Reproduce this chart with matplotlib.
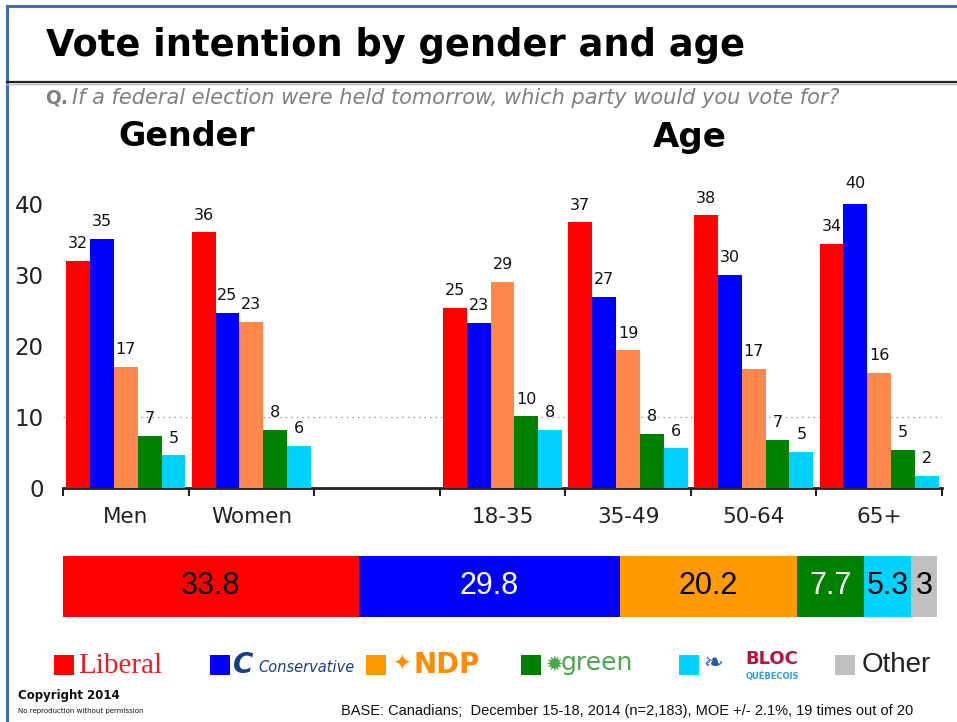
import numpy as np
import matplotlib
matplotlib.use("Agg")
import matplotlib.pyplot as plt
from matplotlib import font_manager
from matplotlib.patches import Rectangle
from matplotlib.lines import Line2D

# ---------------- data ----------------
categories = ["Men", "Women", "", "18-35", "35-49", "50-64", "65+"]
parties = ["Liberal", "Conservative", "NDP", "Green", "Bloc"]
liberal      = [32.0, 36.0, np.nan, 25.4, 37.4, 38.4, 34.4]
conservative = [35.1, 24.7, np.nan, 23.3, 26.9, 30.0, 40.4]
ndp          = [17.1, 23.4, np.nan, 29.0, 19.4, 16.8, 16.2]
green        = [7.3, 8.2, np.nan, 10.1, 7.6, 6.8, 5.4]
bloc         = [4.6, 5.9, np.nan, 8.2, 5.6, 5.1, 1.7]
bar_colors = ["#FF0000", "#0000FF", "#FF884D", "#008000", "#00D2FF"]

overall_labels = ["Liberal", "Conservative", "NDP", "Green", "Bloc", "Other"]
overall_values = [33.8, 29.8, 20.2, 7.7, 5.3, 3]
overall_colors = ["#FF0000", "#0000FF", "#FF9A00", "#008000", "#00D2FF", "#C0C0C0"]
overall_text_colors = ["black", "white", "black", "white", "black", "black"]

yticks = [0, 10, 20, 30, 40]

# ---------------- fonts ----------------
avail = {f.name for f in font_manager.fontManager.ttflist}
narrow = "Liberation Sans Narrow" if "Liberation Sans Narrow" in avail else "Liberation Sans"

W, H = 957, 722
fig = plt.figure(figsize=(W / 100, H / 100), dpi=100)
fig.patch.set_facecolor("white")


def fx(x):
    return x / W


def fy(y):
    return 1 - y / H


# frame lines
fig.add_artist(Line2D([fx(7), 1], [fy(6), fy(6)], color="#3F6CB5", lw=2.2))
fig.add_artist(Line2D([fx(7), fx(7)], [fy(6), 0], color="#3F6CB5", lw=2.2))
fig.add_artist(Line2D([fx(7), 1], [fy(81.5), fy(81.5)], color="#222222", lw=1.6))
fig.add_artist(Line2D([fx(7), 1], [fy(84), fy(84)], color="#BBBBBB", lw=1.0))

# titles
fig.text(fx(46), fy(46), "Vote intention by gender and age", fontsize=26.5,
         fontweight="bold", color="black", ha="left", va="center")
fig.text(fx(45), fy(98), "Q.", fontsize=13.5, fontweight="bold", color="#808080",
         ha="left", va="center")
fig.text(fx(72), fy(98), "If a federal election were held tomorrow, which party would you vote for?",
         fontsize=15, style="italic", color="#808080", ha="left", va="center")
fig.text(fx(187), fy(137), "Gender", fontsize=24, fontweight="bold", ha="center", va="center")
fig.text(fx(690), fy(137), "Age", fontsize=24.5, fontweight="bold", ha="center", va="center")

# ---------------- grouped bars ----------------
ax = fig.add_axes([fx(63), fy(488), fx(942) - fx(63), fy(204) - fy(488)])
x = np.arange(len(categories))
series = [liberal, conservative, ndp, green, bloc]
bw = 0.19
for i, (vals, col) in enumerate(zip(series, bar_colors)):
    xs = x - 0.475 + bw * (i + 0.5)
    ax.bar(xs, vals, width=bw, color=col, zorder=3)
    for xi, v in zip(xs, vals):
        if np.isnan(v):
            continue
        ax.annotate(f"{int(round(v))}", (xi, v), xytext=(0, 7), textcoords="offset points",
                    ha="center", va="bottom", fontsize=11.5, color="#111111", zorder=4,
                    annotation_clip=False)

ax.set_xlim(-0.5, len(categories) - 0.5)
ax.set_ylim(0, 40)
ax.axhline(10, color="#999999", lw=1.0, ls=(0, (1, 3)), zorder=1)
for s in ["top", "right", "left"]:
    ax.spines[s].set_visible(False)
ax.spines["bottom"].set_linewidth(2)
ax.spines["bottom"].set_color("#222222")
ax.set_yticks(yticks)
ax.set_yticklabels([str(t) for t in yticks], fontsize=16.5, color="#222222")
ax.tick_params(axis="y", length=0, pad=14)
ax.set_xticks(x)
ax.set_xticklabels(categories, fontsize=15.5, color="#222222")
ax.tick_params(axis="x", which="major", length=0, pad=14)
ax.set_xticks(np.arange(-0.5, len(categories)), minor=True)
ax.tick_params(axis="x", which="minor", length=6, width=1.5, color="#222222", direction="out")
ax.patch.set_alpha(0)

# ---------------- overall stacked bar ----------------
ax2 = fig.add_axes([fx(63), fy(617), fx(937) - fx(63), fy(556) - fy(617)])
left = 0.0
for lab, v, col, tc in zip(overall_labels, overall_values, overall_colors, overall_text_colors):
    ax2.barh(0, v, left=left, color=col, height=1.0)
    ax2.text(left + v / 2, 0, f"{v:g}", ha="center", va="center", fontsize=22,
             family=[narrow, "DejaVu Sans"], color=tc)
    left += v
ax2.set_xlim(0, sum(overall_values))
ax2.set_ylim(-0.5, 0.5)
ax2.axis("off")

# ---------------- legend (logos approximated with text) ----------------
leg_y = 665
sq = 20
legend_sq_x = [54, 210, 366, 521, 679, 835]
for sx, col in zip(legend_sq_x, overall_colors):
    fig.add_artist(Rectangle((fx(sx), fy(leg_y + sq / 2)), sq / W, sq / H,
                             transform=fig.transFigure, color=col, lw=0))

fig.text(fx(78), fy(666), "Liberal", fontsize=21, family=["Liberation Serif", "DejaVu Serif"],
         color="#E2202C", ha="left", va="center")
fig.text(fx(233), fy(665), "C", fontsize=20, fontweight="bold", style="italic",
         color="#1A3C8C", ha="left", va="center")
fig.text(fx(258), fy(667), "Conservative", fontsize=10.5, style="italic",
         color="#1A3C8C", ha="left", va="center")
fig.text(fx(392), fy(665), "\u2726", fontsize=16, color="#FF8C00", ha="left", va="center")
fig.text(fx(414), fy(665), "NDP", fontsize=20, fontweight="bold", color="#FF8C00",
         ha="left", va="center")
fig.text(fx(545), fy(665), "\u2739", fontsize=15, color="#4CA64C", ha="left", va="center")
fig.text(fx(561), fy(663), "green", fontsize=18, color="#4CA64C", ha="left", va="center")
fig.text(fx(703), fy(663), "\u2767", fontsize=17, color="#1F5FA8", ha="left", va="center")
fig.text(fx(745), fy(659), "BLOC", fontsize=13, fontweight="bold", color="#B3163F",
         ha="left", va="center")
fig.text(fx(746), fy(676), "QUÉBECOIS", fontsize=6, fontweight="bold", color="#2AA0DC",
         ha="left", va="center")
fig.text(fx(862), fy(665), "Other", fontsize=20, family=["Liberation Sans", "DejaVu Sans"],
         color="#222222", ha="left", va="center")

# ---------------- footer ----------------
fig.text(fx(18), fy(695), "Copyright 2014", fontsize=8.5, fontweight="bold", color="#111111",
         ha="left", va="center")
fig.text(fx(18), fy(711), "No reproduction without permission", fontsize=5, color="#111111",
         ha="left", va="center")
fig.text(fx(341), fy(711),
         "BASE: Canadians;  December 15-18, 2014 (n=2,183), MOE +/- 2.1%, 19 times out of 20",
         fontsize=10.5, family=[narrow, "DejaVu Sans"], color="#111111", ha="left", va="center")

fig.savefig("out.png", dpi=100)
